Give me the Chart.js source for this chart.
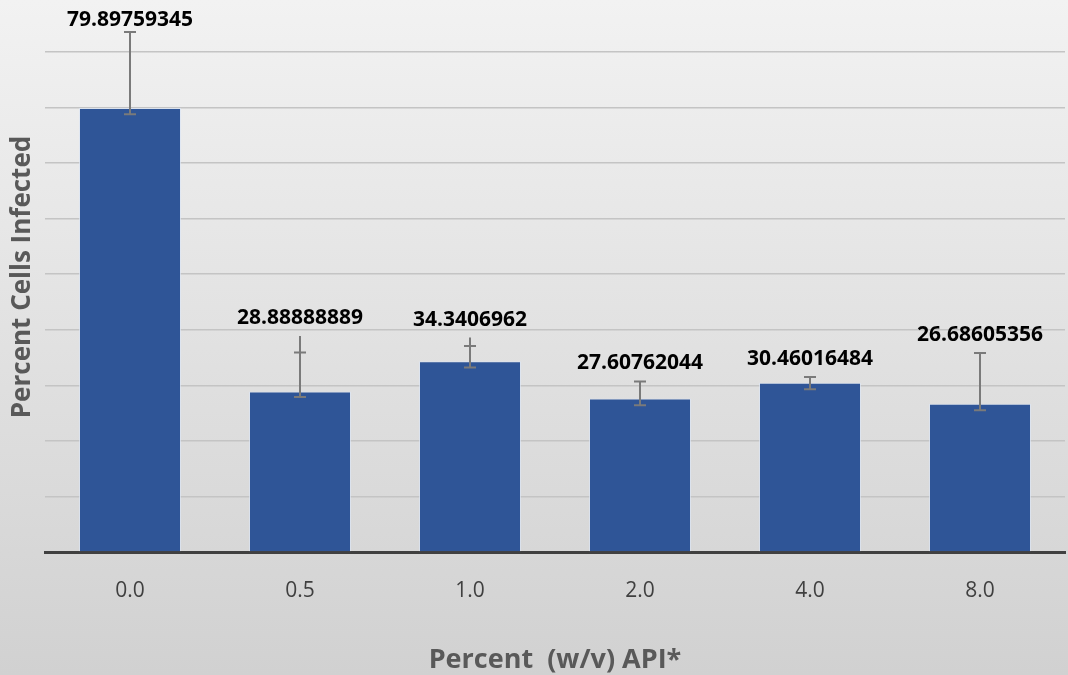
<!DOCTYPE html>
<html>
<head>
<meta charset="utf-8">
<script src="https://cdn.jsdelivr.net/npm/chart.js@4.4.1/dist/chart.umd.min.js"></script>
<style>
html,body{margin:0;padding:0;background:#e0e0e0;}
#wrap{width:1068px;height:675px;position:relative;}
</style>
</head>
<body>
<div id="wrap"><canvas id="c" width="1068" height="675"></canvas></div>
<script>
const categories = ['0.0', '0.5', '1.0', '2.0', '4.0', '8.0'];
const values = [79.89759345, 28.88888889, 34.3406962, 27.60762044, 30.46016484, 26.68605356];
const valueLabels = ['79.89759345', '28.88888889', '34.3406962', '27.60762044', '30.46016484', '26.68605356'];
const errLow = [78.8, 27.9, 33.2, 26.4, 29.3, 25.5];
const errCap = [93.6, 35.9, 37.1, 30.7, 31.5, 35.8];
const errLineTop = [93.6, 38.9, 38.6, 30.7, 31.5, 35.8];
const yGridTicks = [0, 10, 20, 30, 40, 50, 60, 70, 80, 90];

const bgPlugin = {
  id: 'bg',
  beforeDraw(chart) {
    const {ctx, width, height} = chart;
    const g = ctx.createLinearGradient(0, 0, 0, height);
    g.addColorStop(0, '#f2f2f2');
    g.addColorStop(1, '#d1d1d1');
    ctx.save();
    ctx.fillStyle = g;
    ctx.fillRect(0, 0, width, height);
    ctx.restore();
  }
};

const errPlugin = {
  id: 'errbars',
  afterDatasetsDraw(chart) {
    const {ctx} = chart;
    const ys = chart.scales.y;
    const meta = chart.getDatasetMeta(0);
    ctx.save();
    ctx.strokeStyle = '#7a7a7a';
    ctx.lineWidth = 2;
    meta.data.forEach((bar, i) => {
      const x = bar.x;
      const yl = ys.getPixelForValue(errLow[i]);
      const yc = ys.getPixelForValue(errCap[i]);
      const yt = ys.getPixelForValue(errLineTop[i]);
      ctx.beginPath();
      ctx.moveTo(x, yl); ctx.lineTo(x, yt);
      ctx.moveTo(x - 6, yl); ctx.lineTo(x + 6, yl);
      ctx.moveTo(x - 6, yc); ctx.lineTo(x + 6, yc);
      ctx.stroke();
    });
    ctx.fillStyle = '#000000';
    ctx.font = 'bold 21px "Open Sans"';
    ctx.textAlign = 'center';
    ctx.textBaseline = 'middle';
    meta.data.forEach((bar, i) => {
      const yt = ys.getPixelForValue(errLineTop[i]);
      const y = Math.max(yt - 18, 20);
      ctx.fillText(valueLabels[i], bar.x, y);
    });
    ctx.restore();
  }
};

new Chart(document.getElementById('c'), {
  type: 'bar',
  data: {
    labels: categories,
    datasets: [{
      data: values,
      backgroundColor: '#2F5597',
      borderColor: 'rgba(220,230,245,0.7)',
      borderWidth: 1,
      barPercentage: 0.6,
      categoryPercentage: 1.0
    }]
  },
  options: {
    responsive: false,
    animation: false,
    devicePixelRatio: 1,
    layout: {padding: {top: 2, right: 3, left: 0, bottom: 0}},
    plugins: {legend: {display: false}, tooltip: {enabled: false}},
    scales: {
      x: {
        grid: {display: false},
        border: {display: true, color: '#404040', width: 3},
        ticks: {color: '#404040', font: {family: 'Open Sans', size: 21}, padding: 18},
        title: {display: true, text: 'Percent  (w/v) API*', color: '#595959',
                font: {family: 'Open Sans', size: 27, weight: 'bold', lineHeight: 1.0}, padding: {top: 1, bottom: 1.5}},
        afterFit(s) { s.height = 123; }
      },
      y: {
        min: 0, max: 99,
        ticks: {display: false, stepSize: 10},
        afterBuildTicks(s) { s.ticks = yGridTicks.map(v => ({value: v})); },
        grid: {color: '#c4c4c4', lineWidth: 1.5, drawTicks: false},
        border: {display: false},
        title: {display: true, text: 'Percent Cells Infected', color: '#595959',
                font: {family: 'Open Sans', size: 26, weight: 'bold', lineHeight: 1.0}, padding: {top: 9.5, bottom: 0}},
        afterFit(s) { s.width = 45; }
      }
    }
  },
  plugins: [bgPlugin, errPlugin]
});
</script>
</body>
</html>
